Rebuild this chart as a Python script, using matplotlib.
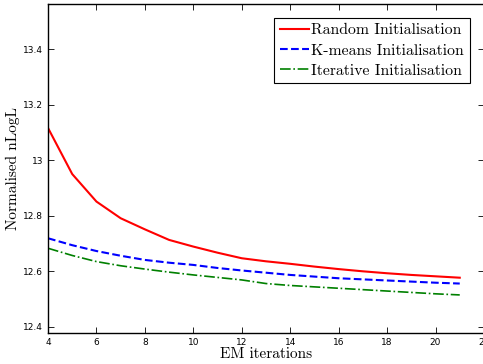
import numpy as np
import matplotlib
matplotlib.use('Agg')
from matplotlib import pyplot as plt
from matplotlib.ticker import FormatStrFormatter

iters = [4, 5, 6, 7, 8, 9, 10, 11, 12, 13, 14, 15, 16, 17, 18, 19, 20, 21]
random_init = [13.116, 12.95, 12.851, 12.791, 12.751, 12.713, 12.689, 12.667, 12.647,
               12.636, 12.627, 12.617, 12.608, 12.600, 12.593, 12.587, 12.582, 12.577]
kmeans_init = [12.719, 12.694, 12.673, 12.656, 12.641, 12.631, 12.623, 12.612, 12.603,
               12.595, 12.587, 12.581, 12.575, 12.571, 12.567, 12.563, 12.559, 12.556]
iter_init = [12.683, 12.657, 12.635, 12.620, 12.608, 12.597, 12.587, 12.578, 12.569,
             12.556, 12.549, 12.544, 12.539, 12.534, 12.529, 12.524, 12.519, 12.515]

serif = 'cmr10'

fig = plt.figure(figsize=(4.83, 3.64), dpi=100)
ax = fig.add_axes([48 / 483, 31 / 364, 1.0 - 48 / 483 + 0.002, 329 / 364])

ax.plot(iters, random_init, '-', color='red', lw=1.5, label='Random Initialisation')
ax.plot(iters, kmeans_init, '--', color='blue', lw=1.5, label='K-means Initialisation')
ax.plot(iters, iter_init, '-.', color='green', lw=1.2, label='Iterative Initialisation')

ax.set_xlim(4, 22)
ax.set_ylim(12.378, 13.562)
ax.set_xticks(np.arange(4, 23, 2))
ax.set_yticks([12.4, 12.6, 12.8, 13.0, 13.2, 13.4])
ax.yaxis.set_major_formatter(FormatStrFormatter('%g'))
ax.tick_params(direction='in', top=True, right=True, labelsize=6.5, length=4, width=0.6)
for s in ax.spines.values():
    s.set_linewidth(1.0)

ax.set_xlabel('EM iterations', family=serif, fontsize=11, labelpad=0)
ax.set_ylabel('Normalised nLogL', family=serif, fontsize=11, labelpad=2)

leg = ax.legend(loc='upper right', bbox_to_anchor=(0.967, 0.958), prop={'family': serif, 'size': 11.3},
                fancybox=False, edgecolor='black', framealpha=1, handlelength=1.85,
                handletextpad=0.15, borderpad=0.35, labelspacing=0.4, borderaxespad=0)
leg.get_frame().set_linewidth(0.8)

plt.savefig('out.png', dpi=100)
